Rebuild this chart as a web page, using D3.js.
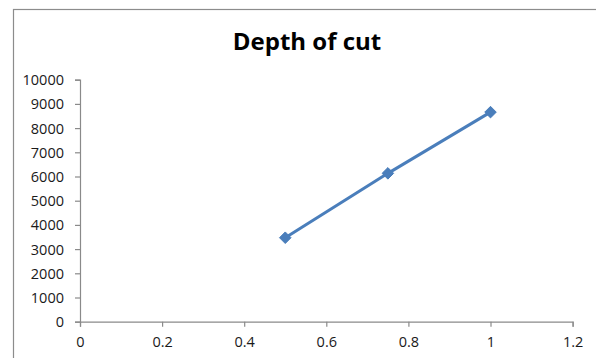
<!DOCTYPE html>
<html>
<head>
<meta charset="utf-8">
<script src="https://cdn.jsdelivr.net/npm/d3@7"></script>
<style>
  html, body { margin: 0; padding: 0; background: #fff; }
  svg { display: block; }
</style>
</head>
<body>
<svg id="chart" width="596" height="358"></svg>
<script>
// Series: depth of cut vs. measured value
const depthOfCut = [0.5, 0.75, 1];
const values = [3470, 6130, 8660];
const xTicks = [0, 0.2, 0.4, 0.6, 0.8, 1, 1.2];
const yTicks = [0, 1000, 2000, 3000, 4000, 5000, 6000, 7000, 8000, 9000, 10000];
const chartTitle = "Depth of cut";

const svg = d3.select("#chart");
const W = 596, H = 358;
const margin = { left: 80, right: 596 - 572.6, top: 79.7, bottom: 358 - 321.7 };

// chart frame
svg.append("rect")
  .attr("x", 13.5).attr("y", 9.5)
  .attr("width", W).attr("height", H)
  .attr("fill", "#fff").attr("stroke", "#8c8c8c").attr("stroke-width", 1.2);

const x = d3.scaleLinear().domain([0, 1.2]).range([margin.left, W - margin.right]);
const y = d3.scaleLinear().domain([0, 10000]).range([H - margin.bottom, margin.top]);

const axisColor = "#8a8a8a";
const labelFont = "'Open Sans', Lato, sans-serif";

const yAxis = svg.append("g")
  .attr("transform", `translate(${x(0)},0)`)
  .call(d3.axisLeft(y).tickValues(yTicks).tickFormat(d3.format("d")).tickSize(5).tickPadding(11));
const xAxis = svg.append("g")
  .attr("transform", `translate(0,${y(0)})`)
  .call(d3.axisBottom(x).tickValues(xTicks).tickFormat(d => String(d)).tickSize(5).tickPadding(10));

[yAxis, xAxis].forEach(g => {
  g.select(".domain").attr("stroke", axisColor).attr("stroke-width", 1.2);
  g.selectAll(".tick line").attr("stroke", axisColor).attr("stroke-width", 1.2);
  g.selectAll(".tick text")
    .attr("fill", "#1a1a1a")
    .style("font-family", labelFont)
    .style("font-size", "14.5px");
});
yAxis.selectAll(".tick text").attr("dy", "0.35em");

// series line
const line = d3.line().x((d, i) => x(depthOfCut[i])).y(d => y(d));
svg.append("path")
  .datum(values)
  .attr("d", line)
  .attr("fill", "none")
  .attr("stroke", "#4a7ebb")
  .attr("stroke-width", 3)
  .attr("stroke-linejoin", "round");

// diamond markers
svg.selectAll(".marker")
  .data(values)
  .enter().append("path")
  .attr("class", "marker")
  .attr("d", d3.symbol().type(d3.symbolDiamond2).size(85))
  .attr("transform", (d, i) => `translate(${x(depthOfCut[i])},${y(d)})`)
  .attr("fill", "#4a7ebb")
  .attr("stroke", "#4a7ebb")
  .attr("stroke-width", 1)
  .attr("stroke-linejoin", "round");

// title
svg.append("text")
  .attr("x", 307).attr("y", 50)
  .attr("text-anchor", "middle")
  .style("font-family", labelFont)
  .style("font-weight", "bold")
  .style("font-size", "24px")
  .attr("fill", "#000")
  .text(chartTitle);
</script>
</body>
</html>
